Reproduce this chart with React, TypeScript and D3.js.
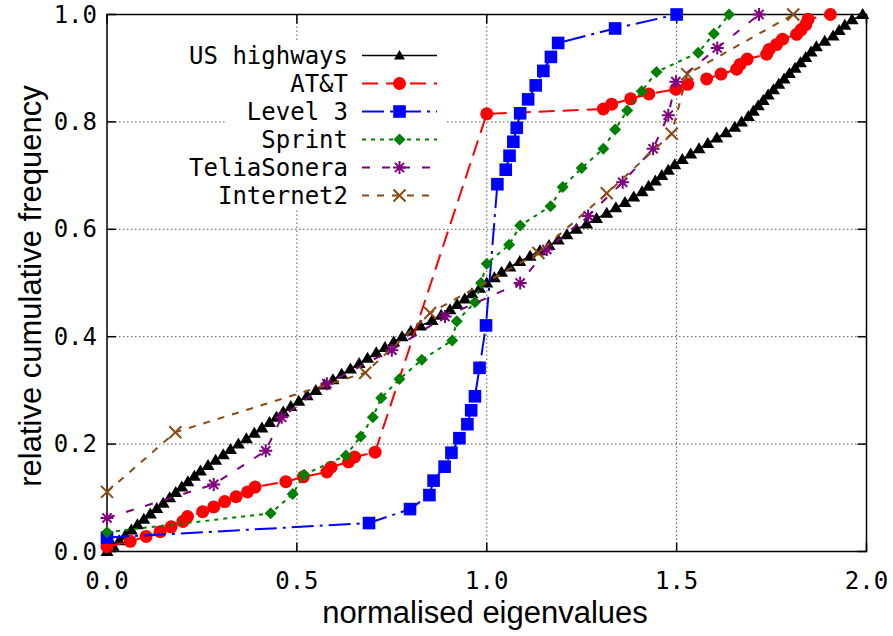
import React from 'react';
import * as d3 from 'd3';

// tick values
const xTicks = [0, 0.5, 1.0, 1.5, 2.0];
const yTicks = [0, 0.2, 0.4, 0.6, 0.8, 1.0];

// [normalised eigenvalue, relative cumulative frequency]
const usHighways: [number, number][] = [
  [0.000, 0.00], [0.016, 0.01], [0.032, 0.02], [0.048, 0.03], [0.064, 0.04],
  [0.080, 0.05], [0.097, 0.06], [0.114, 0.07], [0.131, 0.08], [0.148, 0.09],
  [0.165, 0.10], [0.181, 0.11], [0.197, 0.12], [0.213, 0.13], [0.230, 0.14],
  [0.246, 0.15], [0.266, 0.16], [0.286, 0.17], [0.306, 0.18], [0.325, 0.19],
  [0.346, 0.20], [0.367, 0.21], [0.388, 0.22], [0.408, 0.23], [0.428, 0.24],
  [0.446, 0.25], [0.464, 0.26], [0.484, 0.27], [0.505, 0.28], [0.527, 0.29],
  [0.550, 0.30], [0.573, 0.31], [0.595, 0.32], [0.618, 0.33], [0.641, 0.34],
  [0.664, 0.35], [0.686, 0.36], [0.709, 0.37], [0.732, 0.38], [0.755, 0.39],
  [0.777, 0.40], [0.800, 0.41], [0.825, 0.42], [0.856, 0.43], [0.880, 0.44],
  [0.903, 0.45], [0.922, 0.46], [0.942, 0.47], [0.961, 0.48], [0.981, 0.49],
  [1.000, 0.50], [1.020, 0.51], [1.039, 0.52], [1.061, 0.53], [1.087, 0.54],
  [1.114, 0.55], [1.140, 0.56], [1.164, 0.57], [1.188, 0.58], [1.211, 0.59],
  [1.236, 0.60], [1.263, 0.61], [1.289, 0.62], [1.316, 0.63], [1.340, 0.64],
  [1.364, 0.65], [1.387, 0.66], [1.409, 0.67], [1.426, 0.68], [1.444, 0.69],
  [1.461, 0.70], [1.478, 0.71], [1.495, 0.72], [1.515, 0.73], [1.537, 0.74],
  [1.559, 0.75], [1.582, 0.76], [1.606, 0.77], [1.630, 0.78], [1.653, 0.79],
  [1.671, 0.80], [1.689, 0.81], [1.702, 0.82], [1.715, 0.83], [1.728, 0.84],
  [1.741, 0.85], [1.755, 0.86], [1.769, 0.87], [1.783, 0.88], [1.797, 0.89],
  [1.812, 0.90], [1.826, 0.91], [1.840, 0.92], [1.854, 0.93], [1.868, 0.94],
  [1.890, 0.95], [1.912, 0.96], [1.928, 0.97], [1.943, 0.98], [1.962, 0.99],
  [1.990, 1.00],
];

const att: [number, number][] = [
  [0, 0.009], [0.061, 0.019], [0.103, 0.028], [0.14, 0.037], [0.169, 0.046],
  [0.2, 0.056], [0.212, 0.065], [0.252, 0.074], [0.281, 0.083], [0.31, 0.093],
  [0.34, 0.102], [0.37, 0.111], [0.39, 0.12], [0.471, 0.13], [0.517, 0.139],
  [0.579, 0.148], [0.59, 0.157], [0.636, 0.167], [0.652, 0.176], [0.706, 0.185],
  [1.0, 0.815], [1.307, 0.824], [1.329, 0.833], [1.379, 0.843], [1.427, 0.852],
  [1.498, 0.861], [1.529, 0.87], [1.579, 0.88], [1.617, 0.889], [1.658, 0.898],
  [1.667, 0.907], [1.686, 0.917], [1.737, 0.926], [1.744, 0.935], [1.763, 0.944],
  [1.779, 0.954], [1.816, 0.963], [1.828, 0.972], [1.84, 0.981], [1.846, 0.991],
  [1.905, 1.0],
];

const level3: [number, number][] = [
  [0, 0.026], [0.69, 0.053], [0.798, 0.079], [0.849, 0.105], [0.86, 0.132],
  [0.889, 0.158], [0.907, 0.184], [0.928, 0.211], [0.949, 0.237], [0.959, 0.263],
  [0.969, 0.289], [0.981, 0.342], [0.998, 0.421], [1.028, 0.684], [1.05, 0.711],
  [1.06, 0.737], [1.07, 0.763], [1.079, 0.789], [1.088, 0.816], [1.109, 0.842],
  [1.129, 0.868], [1.149, 0.895], [1.169, 0.921], [1.188, 0.947], [1.338, 0.974],
  [1.5, 1.0],
];

const sprint: [number, number][] = [
  [0, 0.036], [0.431, 0.071], [0.489, 0.107], [0.519, 0.143], [0.629, 0.179],
  [0.668, 0.214], [0.7, 0.25], [0.722, 0.286], [0.77, 0.321], [0.829, 0.357],
  [0.909, 0.393], [0.921, 0.429], [0.969, 0.464], [0.985, 0.5], [1.0, 0.536],
  [1.059, 0.571], [1.088, 0.607], [1.168, 0.643], [1.2, 0.679], [1.25, 0.714],
  [1.307, 0.75], [1.338, 0.786], [1.37, 0.821], [1.408, 0.857], [1.447, 0.893],
  [1.557, 0.929], [1.598, 0.964], [1.638, 1.0],
];

const teliaSonera: [number, number][] = [
  [0, 0.0625], [0.281, 0.125], [0.418, 0.1875], [0.46, 0.25], [0.579, 0.3125],
  [0.75, 0.375], [0.89, 0.4375], [1.088, 0.5], [1.158, 0.5625], [1.267, 0.625],
  [1.358, 0.6875], [1.438, 0.75], [1.478, 0.8125], [1.498, 0.875], [1.607, 0.9375],
  [1.717, 1.0],
];

const internet2: [number, number][] = [
  [0, 0.111], [0.18, 0.222], [0.68, 0.333], [0.851, 0.444], [1.136, 0.556],
  [1.316, 0.667], [1.487, 0.778], [1.528, 0.889], [1.807, 1.0],
];

type Marker = 'triangle' | 'circle' | 'square' | 'diamond' | 'star' | 'cross';

const series: { name: string; data: [number, number][]; color: string; dash: string | null; marker: Marker }[] = [
  { name: 'US highways', data: usHighways, color: '#000000', dash: null, marker: 'triangle' },
  { name: 'AT&T', data: att, color: '#ff0000', dash: '16,8', marker: 'circle' },
  { name: 'Level 3', data: level3, color: '#0000ff', dash: '22,6,3,6', marker: 'square' },
  { name: 'Sprint', data: sprint, color: '#008000', dash: '4,5', marker: 'diamond' },
  { name: 'TeliaSonera', data: teliaSonera, color: '#800080', dash: '8,12', marker: 'star' },
  { name: 'Internet2', data: internet2, color: '#8b4a14', dash: '7,8', marker: 'cross' },
];

const W = 893;
const H = 636;
const left = 107;
const right = 866.5;
const top = 14.5;
const bottom = 551.5;

const mono = '"DejaVu Sans Mono", monospace';
const sans = '"Liberation Sans", Arial, sans-serif';

function MarkerShape({ type, cx, cy, color, big }: { type: Marker; cx: number; cy: number; color: string; big?: boolean }) {
  const t = `translate(${cx},${cy})`;
  if (type === 'triangle')
    return <path transform={t} d={big ? 'M0,-6.5L6.5,4.5L-6.5,4.5Z' : 'M0,-5.5L5.5,4L-5.5,4Z'} fill={color} />;
  if (type === 'circle') return <circle cx={cx} cy={cy} r={6.5} fill={color} />;
  if (type === 'square') return <rect x={cx - 6.3} y={cy - 6.3} width={12.6} height={12.6} fill={color} />;
  if (type === 'diamond') return <path transform={t} d="M0,-6L6,0L0,6L-6,0Z" fill={color} />;
  if (type === 'star')
    return (
      <path transform={t} d="M-6.5,0H6.5M0,-6.5V6.5M-4.6,-4.6L4.6,4.6M-4.6,4.6L4.6,-4.6" stroke={color} strokeWidth={2} fill="none" />
    );
  return <path transform={t} d="M-6,-6L6,6M-6,6L6,-6" stroke={color} strokeWidth={2} fill="none" />;
}

export default function App() {
  const x = d3.scaleLinear().domain([0, 2]).range([left, right]);
  const y = d3.scaleLinear().domain([0, 1]).range([bottom, top]);
  const line = d3
    .line<[number, number]>()
    .x((d) => x(d[0]))
    .y((d) => y(d[1]));

  const legendX = 348;
  const sampleX0 = 362;
  const sampleX1 = 437;
  const legendY0 = 55.5;
  const legendStep = 28;

  return (
    <svg width={W} height={H} style={{ position: 'absolute', left: 0, top: 0, background: '#fff' }}>
      <rect width={W} height={H} fill="#fff" />
      {/* grid */}
      <g stroke="#555" strokeWidth={1} strokeDasharray="1.5,2.5">
        {xTicks.slice(1, -1).map((t) => (
          <line key={'gx' + t} x1={x(t)} x2={x(t)} y1={top} y2={bottom} />
        ))}
        {yTicks.slice(1, -1).map((t) => (
          <line key={'gy' + t} x1={left} x2={right} y1={y(t)} y2={y(t)} />
        ))}
      </g>
      {/* opaque key box */}
      <rect x={225} y={42} width={221} height={168} fill="#fff" />
      {/* ticks */}
      <g stroke="#000" strokeWidth={1.5}>
        {xTicks.map((t) => (
          <g key={'tx' + t}>
            <line x1={x(t)} x2={x(t)} y1={bottom} y2={bottom - 9} />
            <line x1={x(t)} x2={x(t)} y1={top} y2={top + 9} />
          </g>
        ))}
        {yTicks.map((t) => (
          <g key={'ty' + t}>
            <line x1={left} x2={left + 9} y1={y(t)} y2={y(t)} />
            <line x1={right} x2={right - 9} y1={y(t)} y2={y(t)} />
          </g>
        ))}
      </g>
      <rect x={left} y={top} width={right - left} height={bottom - top} fill="none" stroke="#000" strokeWidth={1.5} />
      {/* tick labels */}
      <g fontFamily={mono} fontSize={24} fill="#000">
        {xTicks.map((t) => (
          <text key={'lx' + t} x={x(t)} y={589} textAnchor="middle">
            {t.toFixed(1)}
          </text>
        ))}
        {yTicks.map((t) => (
          <text key={'ly' + t} x={97} y={y(t) + 8} textAnchor="end">
            {t.toFixed(1)}
          </text>
        ))}
      </g>
      {/* axis titles */}
      <text x={485} y={623} textAnchor="middle" fontFamily={sans} fontSize={31}>
        normalised eigenvalues
      </text>
      <text transform="translate(41,286) rotate(-90)" textAnchor="middle" fontFamily={sans} fontSize={31}>
        relative cumulative frequency
      </text>
      {/* series */}
      {series.map((s) => (
        <g key={s.name}>
          <path
            d={line(s.data) ?? ''}
            fill="none"
            stroke={s.color}
            strokeWidth={s.marker === 'triangle' ? 1.5 : 2}
            strokeDasharray={s.dash ?? undefined}
          />
          {s.data.map((d, i) => (
            <MarkerShape key={i} type={s.marker} cx={x(d[0])} cy={y(d[1])} color={s.color} big />
          ))}
        </g>
      ))}
      {/* legend */}
      {series.map((s, i) => {
        const ly = legendY0 + i * legendStep;
        return (
          <g key={'leg' + s.name}>
            <text x={legendX} y={ly + 8.5} textAnchor="end" fontFamily={mono} fontSize={24}>
              {s.name}
            </text>
            <line
              x1={sampleX0}
              x2={sampleX1}
              y1={ly}
              y2={ly}
              stroke={s.color}
              strokeWidth={s.marker === 'triangle' ? 1.5 : 2}
              strokeDasharray={s.dash ?? undefined}
            />
            <MarkerShape type={s.marker} cx={(sampleX0 + sampleX1) / 2} cy={ly} color={s.color} />
          </g>
        );
      })}
    </svg>
  );
}
